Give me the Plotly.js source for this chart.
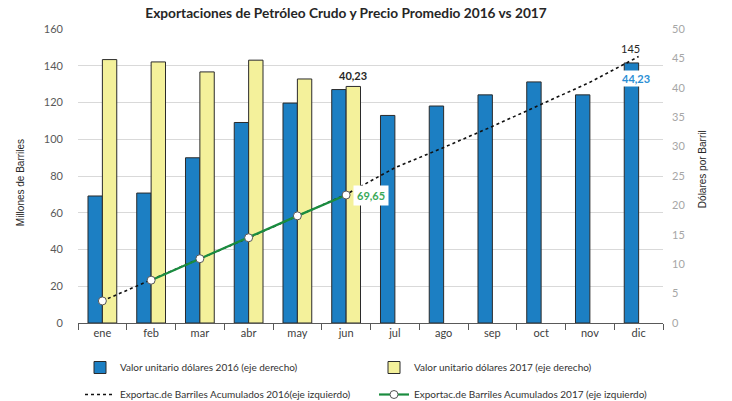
<!DOCTYPE html>
<html>
<head>
<meta charset="utf-8">
<script src="https://cdn.plot.ly/plotly-3.0.1.min.js"></script>
<style>html,body{margin:0;padding:0;background:#fff;}#chart{width:732px;height:401px;}</style>
</head>
<body>
<div id="chart"></div>
<script>
var meses = ['ene','feb','mar','abr','may','jun','jul','ago','sep','oct','nov','dic'];
var precio2016 = [21.6, 22.1, 28.1, 34.1, 37.4, 39.7, 35.3, 36.9, 38.8, 41.0, 38.8, 44.23];
var precio2017 = [44.8, 44.4, 42.7, 44.7, 41.5, 40.23, null, null, null, null, null, null];
var acum2016 = [12, 23.3, 35, 46.4, 58.3, 70, 84.5, 95.5, 107, 119, 131, 145];
var acum2017 = [12, 23.3, 35, 46.4, 58.3, 69.65];
var nombres = [
  'Valor unitario dólares 2016 (eje derecho)',
  'Valor unitario dólares 2017 (eje derecho)',
  'Exportac.de Barriles Acumulados 2016(eje izquierdo)',
  'Exportac.de Barriles Acumulados 2017 (eje izquierdo)'
];
var tituloIzq = 'Millones de Barriles';
var tituloDer = 'Dólares por Barril';
var etiquetaPrecio2017 = '40,23';
var etiquetaAcum2016 = '145';
var etiquetaPrecio2016 = '44,23';
var etiquetaAcum2017 = '69,65';

var FONT = 'Lato, "Open Sans", sans-serif';
var NARROW = '"Liberation Sans Narrow", "Liberation Sans", sans-serif';
var barLine = {color: '#2b2b2b', width: 1};
var markerStyle = {symbol: 'circle', size: 8, color: '#ffffff', line: {color: '#555', width: 1}};

var traces = [
  {type: 'bar', x: meses, y: precio2016, yaxis: 'y', name: nombres[0],
   marker: {color: '#1c7fc3', line: barLine}, legend: 'legend'},
  {type: 'bar', x: meses, y: precio2017, yaxis: 'y', name: nombres[1],
   marker: {color: '#f4f19b', line: barLine}, legend: 'legend2'},
  {type: 'scatter', mode: 'lines', x: meses, y: acum2016, yaxis: 'y2', name: nombres[2],
   line: {color: '#111', width: 1.6, dash: 'dot'}, legend: 'legend3'},
  {type: 'scatter', mode: 'lines+markers', x: meses.slice(1, acum2017.length), y: acum2017.slice(1), yaxis: 'y2',
   name: nombres[3], line: {color: '#1a8c3f', width: 2.2}, marker: markerStyle, legend: 'legend4'},
  {type: 'scatter', mode: 'markers', x: meses.slice(0, 1), y: acum2017.slice(0, 1), yaxis: 'y2',
   showlegend: false, marker: markerStyle}
];

var ultimo = meses.length - 1;
var jun = acum2017.length - 1;

// plot area in pixels: x 78..663, y 29..322.7
function px2paperX(px) { return (px - 78) / 585; }
function px2paperY(py) { return (322.7 - py) / 293.7; }

function leyenda(px, py) {
  return {orientation: 'v', xref: 'container', yref: 'container', x: px / 732, y: 1 - py / 401,
    xanchor: 'left', yanchor: 'top', font: {family: FONT, size: 10, color: '#333333'},
    bgcolor: 'rgba(0,0,0,0)', borderwidth: 0};
}

var layout = {
  width: 732, height: 401,
  margin: {l: 78, r: 69, t: 29, b: 78, autoexpand: false},
  paper_bgcolor: '#ffffff', plot_bgcolor: '#ffffff',
  font: {family: FONT, color: '#404040'},
  title: {text: 'Exportaciones de Petróleo Crudo y Precio Promedio 2016 vs 2017',
    font: {family: FONT, size: 13.7, color: '#262626', weight: 'bold'},
    x: 346/732, xanchor: 'center', xref: 'container', y: 1 - 13/401, yanchor: 'middle', yref: 'container'},
  barmode: 'group', bargap: 0.41, bargroupgap: 0,
  xaxis: {type: 'category', range: [-0.5, 11.5], showgrid: false, zeroline: false,
    showline: true, linecolor: '#595959', linewidth: 1,
    ticks: 'outside', tickson: 'boundaries', ticklen: 6, tickcolor: '#595959',
    tickfont: {family: FONT, size: 11, color: '#404040'}},
  yaxis: {range: [0, 50], dtick: 5, side: 'right', showgrid: false,
    zeroline: false, showline: false, ticks: '', ticklabelstandoff: 8,
    tickfont: {family: FONT, size: 11, color: '#a6a6a6'}},
  yaxis2: {range: [0, 160], dtick: 20, overlaying: 'y', side: 'left',
    showgrid: true, gridcolor: '#d9d9d9', gridwidth: 1,
    zeroline: false, showline: false, ticks: '', ticklabelstandoff: 14,
    tickfont: {family: FONT, size: 11, color: '#595959'}},
  legend: leyenda(80, 353),
  legend2: leyenda(374, 353),
  legend3: leyenda(80, 380),
  legend4: leyenda(374, 380),
  annotations: [
    {x: px2paperX(20), y: px2paperY(183), xref: 'paper', yref: 'paper', text: tituloIzq, showarrow: false,
     textangle: -90, xanchor: 'center', yanchor: 'middle',
     font: {family: NARROW, size: 10, color: '#262626'}},
    {x: px2paperX(702), y: px2paperY(169), xref: 'paper', yref: 'paper', text: tituloDer, showarrow: false,
     textangle: -90, xanchor: 'center', yanchor: 'middle',
     font: {family: NARROW, size: 10, color: '#262626'}},
    {x: meses[jun], y: precio2017[jun], xref: 'x', yref: 'y', text: etiquetaPrecio2017, showarrow: false,
     xshift: 7, yanchor: 'bottom', yshift: 2, font: {family: FONT, size: 11, color: '#262626', weight: 'bold'}},
    {x: meses[ultimo], y: acum2016[ultimo], xref: 'x', yref: 'y2', text: etiquetaAcum2016, showarrow: false,
     xshift: -8, yanchor: 'bottom', yshift: 0, font: {family: FONT, size: 11, color: '#262626'}},
    {x: meses[ultimo], y: precio2016[ultimo], xref: 'x', yref: 'y', text: etiquetaPrecio2016, showarrow: false,
     xshift: -3, yanchor: 'top', yshift: -7, bgcolor: '#ffffff', borderpad: 1,
     font: {family: FONT, size: 11, color: '#2a8ed4', weight: 'bold'}},
    {x: meses[jun], y: acum2017[jun], xref: 'x', yref: 'y2', text: etiquetaAcum2017, showarrow: false,
     xanchor: 'left', xshift: 7, bgcolor: '#ffffff', borderpad: 3,
     font: {family: FONT, size: 11, color: '#3aa95a', weight: 'bold'}}
  ]
};

Plotly.newPlot('chart', traces, layout, {displayModeBar: false, staticPlot: true});
</script>
</body>
</html>
